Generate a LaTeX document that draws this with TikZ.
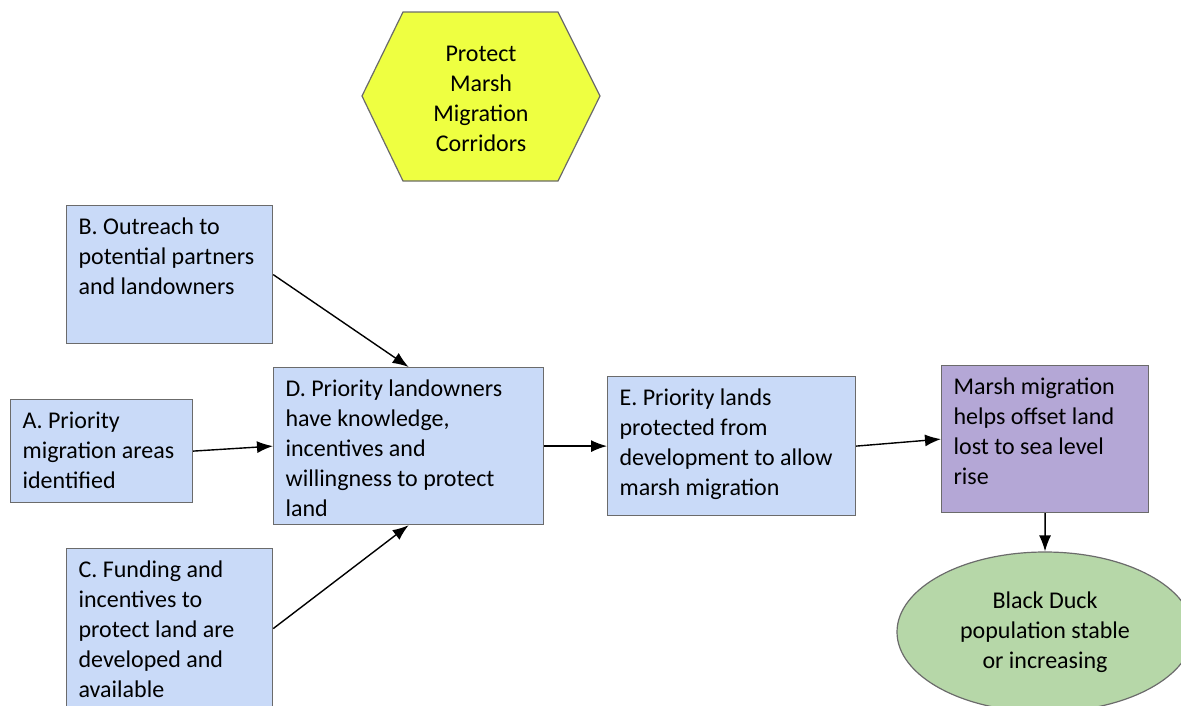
\documentclass[tikz,border=0pt]{standalone}
\usepackage{fontspec}
\setmainfont{Carlito}
\usepackage{tikz}
\usetikzlibrary{shapes.geometric, arrows.meta, positioning, calc}

\definecolor{boxblue}{HTML}{C9DAF8}
\definecolor{boxpurple}{HTML}{B4A7D6}
\definecolor{duckgreen}{HTML}{B6D7A8}
\definecolor{goalyellow}{HTML}{EEFF41}
\definecolor{linegray}{HTML}{6B6B6B}

% text block of a box: width, height, lines
\newcommand{\boxtext}[3]{\parbox[c][#2][t]{#1}{\raggedright\rule{0pt}{29pt}#3}}

\tikzset{
  box/.style={draw=linegray, line width=1.2pt, fill=boxblue, anchor=north west,
    inner xsep=12pt, inner ysep=0pt},
  link/.style={->, line width=1.4pt, >={Latex[length=16pt,width=12pt]}}
}

\begin{document}
\begin{tikzpicture}[x=1pt, y=-1pt, font=\fontsize{24}{30}\selectfont]
    \useasboundingbox (0,0) rectangle (1181,705);
    \clip (0,0) rectangle (1181,705);

    % goal
    \draw [draw=linegray, line width=1.2pt, fill=goalyellow] (362,96) -- (403,12) -- (558,12) -- (600,96) -- (558,181) -- (403,181) -- cycle;
    \node (goal) at (481,99) [align=center] {Protect\\Marsh\\Migration\\Corridors};

    \node (outreach) [box] at (66,205) {\boxtext{182pt}{138pt}{B. Outreach to\\potential partners\\and landowners}};
    \node (areas) [box] at (10,399) {\boxtext{158pt}{103pt}{A. Priority\\migration areas\\identified}};
    \node (funding) [box] at (66,548) {\boxtext{182pt}{160pt}{C. Funding and\\incentives to\\protect land are\\developed and\\available}};
    \node (owners) [box] at (273,367) {\boxtext{246pt}{157pt}{D. Priority landowners\\have knowledge,\\incentives and\\willingness to protect\\land}};
    \node (lands) [box] at (607,376) {\boxtext{224pt}{139pt}{E. Priority lands\\protected from\\development to allow\\marsh migration}};
    \node (offset) [box, fill=boxpurple] at (941,365) {\boxtext{183pt}{147pt}{Marsh migration\\helps offset land\\lost to sea level\\rise}};

    \node (duck) [ellipse, draw=linegray, line width=1.2pt, fill=duckgreen, minimum width=296pt, minimum height=160pt, inner sep=0pt, align=center] at (1045,632) {Black Duck\\population stable\\or increasing};

    \draw [link] (outreach.east) -- (owners.north);
    \draw [link] (areas.east) -- (owners.west);
    \draw [link] (funding.east) -- (owners.south);
    \draw [link] (owners.east) -- (lands.west);
    \draw [link] (lands.east) -- (offset.west);
    \draw [link] (offset.south) -- (duck.north);
\end{tikzpicture}
\end{document}
